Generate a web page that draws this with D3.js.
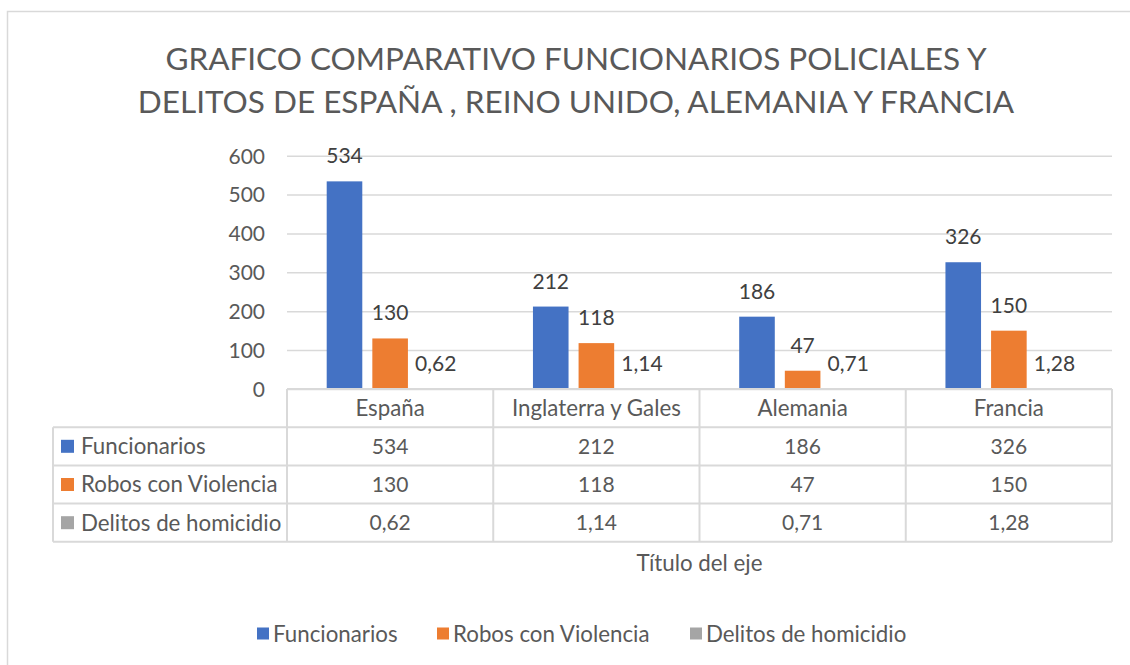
<!DOCTYPE html>
<html>
<head>
<meta charset="utf-8">
<script src="https://cdn.jsdelivr.net/npm/d3@7"></script>
<style>
  html, body { margin: 0; padding: 0; background: #fff; }
  svg { display: block; }
  text { font-family: Lato, "Open Sans", sans-serif; }
</style>
</head>
<body>
<svg id="chart" width="1130" height="665"></svg>
<script>
const titleLines = ["GRAFICO COMPARATIVO FUNCIONARIOS POLICIALES Y", "DELITOS DE ESPAÑA , REINO UNIDO, ALEMANIA Y FRANCIA"];
const categories = ["España", "Inglaterra y Gales", "Alemania", "Francia"];
const seriesNames = ["Funcionarios", "Robos con Violencia", "Delitos de homicidio"];
const funcionarios = [534, 212, 186, 326];
const robos = [130, 118, 47, 150];
const homicidios = [0.62, 1.14, 0.71, 1.28];
const yTicks = [0, 100, 200, 300, 400, 500, 600];
const axisTitle = "Título del eje";
const colors = ["#4472C4", "#ED7D31", "#A5A5A5"];

(function () {
const seriesValues = [funcionarios, robos, homicidios];
const fmt = v => String(v).replace(".", ",");

const svg = d3.select("#chart");
const gridColor = "#d9d9d9";
const textColor = "#595959";
const labelColor = "#404040";
const fontSize = 21;
const textSize = 22.3;

// outer frame
svg.append("rect").attr("x", 7.5).attr("y", 11.5).attr("width", 1140).attr("height", 700)
  .attr("fill", "#fff").attr("stroke", gridColor).attr("stroke-width", 1.5);

// title
svg.append("g").selectAll("text").data(titleLines).join("text")
  .attr("x", 576).attr("y", (d, i) => 70 + i * 43)
  .attr("text-anchor", "middle").attr("fill", textColor)
  .attr("font-size", 31.5).attr("font-weight", 400)
  .text(d => d);

const pLeft = 287, pRight = 1112, pTop = 155.7, pBottom = 389;
const x0 = d3.scaleBand().domain(categories).range([pLeft, pRight]).paddingInner(0).paddingOuter(0);
const x1 = d3.scaleBand().domain(seriesNames).range([0, x0.bandwidth()]).paddingInner(0.22).paddingOuter(0.87);
const y = d3.scaleLinear().domain([0, 600]).range([pBottom, pTop]);

// gridlines + y axis
const yAxis = d3.axisLeft(y).tickValues(yTicks).tickSize(-(pRight - pLeft)).tickPadding(22).tickFormat(d3.format("d"));
const ya = svg.append("g").attr("transform", `translate(${pLeft},0)`).call(yAxis);
ya.select(".domain").remove();
ya.selectAll(".tick line").attr("stroke", gridColor).attr("stroke-width", 1.5);
ya.selectAll(".tick text").attr("fill", textColor).attr("font-size", fontSize)
  .attr("font-family", "Lato, 'Open Sans', sans-serif").attr("dy", "0.35em");

// bars
const groups = svg.append("g").selectAll("g").data(categories).join("g")
  .attr("transform", d => `translate(${x0(d)},0)`);
groups.selectAll("rect").data((c, ci) => seriesNames.map((s, si) => ({ s, si, v: seriesValues[si][ci] })))
  .join("rect")
  .attr("x", d => x1(d.s)).attr("width", x1.bandwidth())
  .attr("y", d => y(d.v)).attr("height", d => pBottom - y(d.v))
  .attr("fill", d => colors[d.si]);
groups.selectAll("text.lbl").data((c, ci) => seriesNames.map((s, si) => ({ s, si, v: seriesValues[si][ci] })))
  .join("text").attr("class", "lbl")
  .attr("x", d => x1(d.s) + x1.bandwidth() / 2).attr("y", d => y(d.v) - 18)
  .attr("text-anchor", "middle").attr("fill", labelColor).attr("font-size", fontSize)
  .text(d => fmt(d.v));

// data table
const tableLeft = 53;
const rowH = 38.2;
const rows = [0, 1, 2, 3, 4].map(i => pBottom + i * rowH);
const tg = svg.append("g");
const lineStyle = sel => sel.attr("stroke", gridColor).attr("stroke-width", 2);
tg.append("line").attr("x1", pLeft).attr("x2", pRight).attr("y1", rows[0]).attr("y2", rows[0]).call(lineStyle);
for (let i = 1; i <= 4; i++) {
  tg.append("line").attr("x1", tableLeft).attr("x2", pRight).attr("y1", rows[i]).attr("y2", rows[i]).call(lineStyle);
}
tg.append("line").attr("x1", tableLeft).attr("x2", tableLeft).attr("y1", rows[1]).attr("y2", rows[4]).call(lineStyle);
const vx = categories.map(c => x0(c)).concat([pRight]);
tg.selectAll("line.v").data(vx).join("line").attr("class", "v")
  .attr("x1", d => d).attr("x2", d => d).attr("y1", rows[0]).attr("y2", rows[4]).call(lineStyle);
tg.selectAll("text.hdr").data(categories).join("text").attr("class", "hdr")
  .attr("x", d => x0(d) + x0.bandwidth() / 2).attr("y", rows[0] + rowH / 2).attr("dy", "0.35em")
  .attr("text-anchor", "middle").attr("fill", textColor).attr("font-size", textSize).text(d => d);
seriesNames.forEach((s, si) => {
  const cy = rows[si + 1] + rowH / 2;
  tg.append("rect").attr("x", 61).attr("y", cy - 6.5).attr("width", 13).attr("height", 13).attr("fill", colors[si]);
  tg.append("text").attr("x", 81).attr("y", cy).attr("dy", "0.35em").attr("fill", textColor)
    .attr("font-size", textSize).text(s);
  tg.append("g").selectAll("text").data(categories).join("text")
    .attr("x", d => x0(d) + x0.bandwidth() / 2).attr("y", cy).attr("dy", "0.35em")
    .attr("text-anchor", "middle").attr("fill", textColor).attr("font-size", fontSize)
    .text((d, ci) => fmt(seriesValues[si][ci]));
});

// axis title
svg.append("text").attr("x", (pLeft + pRight) / 2).attr("y", 571).attr("text-anchor", "middle")
  .attr("fill", textColor).attr("font-size", textSize).text(axisTitle);

// legend
const legendX = [257, 437, 690];
const lg = svg.append("g").selectAll("g").data(seriesNames).join("g")
  .attr("transform", (d, i) => `translate(${legendX[i]},634)`);
lg.append("rect").attr("x", 0).attr("y", -6.5).attr("width", 12).attr("height", 12).attr("fill", (d, i) => colors[i]);
lg.append("text").attr("x", 16).attr("y", 0).attr("dy", "0.35em").attr("fill", textColor)
  .attr("font-size", textSize).text(d => d);
})();
</script>
</body>
</html>
